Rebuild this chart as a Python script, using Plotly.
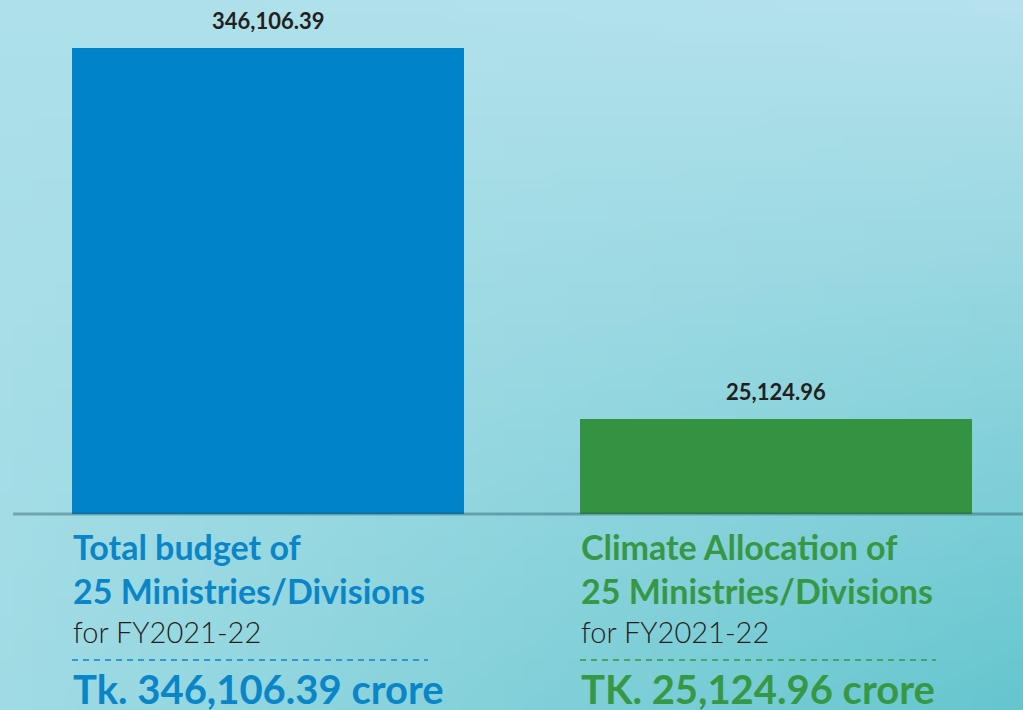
import base64, struct, zlib
import numpy as np
import plotly.graph_objects as go

# ---- data ----
categories = ["Total budget", "Climate Allocation"]
values = [346106.39, 25124.96]
value_labels = ["346,106.39", "25,124.96"]
title_line1 = ["Total budget of", "Climate Allocation of"]
title_line2 = ["25 Ministries/Divisions", "25 Ministries/Divisions"]
title_line3 = ["for FY2021-22", "for FY2021-22"]
totals = ["Tk. 346,106.39 crore", "TK. 25,124.96 crore"]
bar_colors = ["#0083c8", "#349343"]
text_colors = ["#0a86c8", "#369845"]

W, H = 1023, 710

# ---- gradient background as a small PNG ----
def png_data_uri(w, h, corners):
    tl, tr, bl, br = [np.array(c, float) for c in corners]
    rows = []
    for j in range(h):
        v = j / (h - 1)
        row = bytearray([0])
        for i in range(w):
            u = i / (w - 1)
            c = (1 - u) * (1 - v) * tl + u * (1 - v) * tr + (1 - u) * v * bl + u * v * br
            row += bytes(int(round(x)) for x in c)
        rows.append(bytes(row))
    raw = b"".join(rows)
    def chunk(t, d):
        return struct.pack(">I", len(d)) + t + d + struct.pack(">I", zlib.crc32(t + d) & 0xffffffff)
    png = b"\x89PNG\r\n\x1a\n" + chunk(b"IHDR", struct.pack(">IIBBBBB", w, h, 8, 2, 0, 0, 0)) \
        + chunk(b"IDAT", zlib.compress(raw)) + chunk(b"IEND", b"")
    return "data:image/png;base64," + base64.b64encode(png).decode()

bg = png_data_uri(48, 34, [(173, 224, 234), (181, 226, 236), (160, 219, 228), (102, 198, 207)])

base_px = 514
y_dom0 = (H - base_px) / H

fig = go.Figure()
fig.add_trace(go.Bar(
    x=[0, 1], y=values, marker=dict(color=bar_colors, line=dict(width=0)),
    width=392 / 508, hoverinfo="skip", showlegend=False,
))

# value labels above bars
for i, (v, lab) in enumerate(zip(values, value_labels)):
    fig.add_annotation(x=i, y=np.log10(v), xref="x", yref="y", text="<b>%s</b>" % lab,
                       showarrow=False, yanchor="bottom", yshift=12,
                       font=dict(family="Lato", size=22, color="#231f20"))

def py(p):
    return (H - p) / H

bw = 392 / 508
FONT = "Lato"
for i in range(2):
    xl = i - bw / 2
    col = text_colors[i]
    fig.add_annotation(x=xl, y=py(560), xref="x", yref="paper", xanchor="left", yanchor="bottom",
                       text="<b>%s</b>" % title_line1[i], showarrow=False,
                       font=dict(family=FONT, size=34, color=col), borderpad=0, yshift=-8)
    fig.add_annotation(x=xl, y=py(604), xref="x", yref="paper", xanchor="left", yanchor="bottom",
                       text="<b>%s</b>" % title_line2[i], showarrow=False,
                       font=dict(family=FONT, size=34, color=col), borderpad=0, yshift=-8)
    fig.add_annotation(x=xl, y=py(643), xref="x", yref="paper", xanchor="left", yanchor="bottom",
                       text=title_line3[i], showarrow=False,
                       font=dict(family=FONT, size=29, color="#231f20", weight=300), borderpad=0, yshift=-7)
    fig.add_annotation(x=xl, y=py(704), xref="x", yref="paper", xanchor="left", yanchor="bottom",
                       text="<b>%s</b>" % totals[i], showarrow=False,
                       font=dict(family=FONT, size=40, color=col), borderpad=0, yshift=-10)
    # dashed separator
    fig.add_shape(type="line", xref="x", yref="paper", x0=xl, x1=xl + 356 / 508,
                  y0=py(660), y1=py(660), line=dict(color=col, width=1.5, dash="6px,5px"))

# baseline
fig.add_shape(type="line", xref="paper", yref="paper", x0=13 / W, x1=1, y0=y_dom0, y1=y_dom0,
              line=dict(color="rgba(30,75,85,0.38)", width=3), layer="above")

fig.add_layout_image(source=bg, xref="paper", yref="paper", x=0, y=1, sizex=1, sizey=1,
                     xanchor="left", yanchor="top", sizing="stretch", layer="below")

b = 4.4002 - 0.0030701 * (514 - 419)
top = 5.5392 + 0.0030701 * 48
fig.update_layout(
    width=W, height=H, margin=dict(l=0, r=0, t=0, b=0),
    paper_bgcolor="#9fd8e2", plot_bgcolor="rgba(0,0,0,0)",
    xaxis=dict(range=[-268 / 508, (W - 268) / 508], visible=False, fixedrange=True),
    yaxis=dict(type="log", range=[b, top], domain=[y_dom0, 1], visible=False, fixedrange=True),
    bargap=0,
)
fig.write_html("out.html", config={"displayModeBar": False},
               post_script="document.body.style.margin='0';document.body.style.overflow='hidden';")
